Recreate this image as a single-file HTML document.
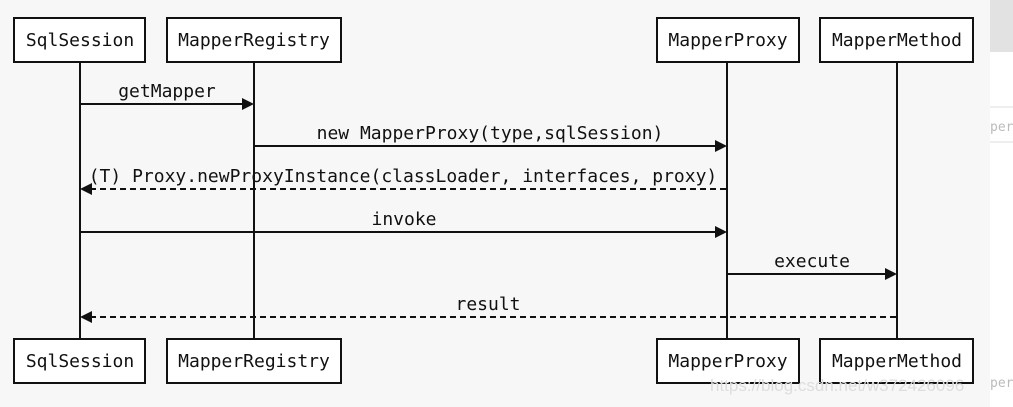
<!DOCTYPE html>
<html><head><style>
body{margin:0;width:1013px;height:407px;overflow:hidden;background:#f7f7f7;}
svg{display:block}
text{font-family:"DejaVu Sans Mono","Liberation Mono",monospace;font-size:18px;fill:#111;}
</style></head><body>
<svg width="1013" height="407" viewBox="0 0 1013 407">
<rect x="990" y="0" width="23" height="407" fill="#fff"/>
<rect x="990" y="0" width="23" height="52" fill="#e2e2e2"/>
<line x1="990" y1="107" x2="1013" y2="107" stroke="#ddd"/>
<line x1="990" y1="142" x2="1013" y2="142" stroke="#ddd"/>
<text x="990" y="131" style="fill:#bbb;font-size:13px">per</text>
<text x="990" y="387" style="fill:#bbb;font-size:13px">per</text>
<g stroke="#111" stroke-width="2" fill="none">
<line x1="80" y1="62" x2="80" y2="339"/>
<line x1="254" y1="62" x2="254" y2="339"/>
<line x1="727" y1="62" x2="727" y2="339"/>
<line x1="897" y1="62" x2="897" y2="339"/>
<g fill="#fff">
<rect x="14" y="18" width="131" height="44"/>
<rect x="167" y="18" width="174" height="44"/>
<rect x="657" y="18" width="142" height="44"/>
<rect x="820" y="18" width="153" height="44"/>
<rect x="14" y="339" width="131" height="44"/>
<rect x="167" y="339" width="174" height="44"/>
<rect x="657" y="339" width="142" height="44"/>
<rect x="820" y="339" width="153" height="44"/>
</g>
<line x1="80" y1="104" x2="244" y2="104"/>
<line x1="254" y1="146" x2="717" y2="146"/>
<line x1="90" y1="189" x2="727" y2="189" stroke-dasharray="6,4"/>
<line x1="80" y1="232" x2="717" y2="232"/>
<line x1="727" y1="274" x2="887" y2="274"/>
<line x1="90" y1="317" x2="897" y2="317" stroke-dasharray="6,4"/>
</g>
<g fill="#111">
<polygon points="254,104 242,98 242,110"/>
<polygon points="727,146 715,140 715,152"/>
<polygon points="80,189 92,183 92,195"/>
<polygon points="727,232 715,226 715,238"/>
<polygon points="897,274 885,268 885,280"/>
<polygon points="80,317 92,311 92,323"/>
</g>
<g text-anchor="middle" style="font-size:17.5px">
<text x="80" y="46">SqlSession</text>
<text x="254" y="46">MapperRegistry</text>
<text x="728" y="46">MapperProxy</text>
<text x="897" y="46">MapperMethod</text>
<text x="80" y="367">SqlSession</text>
<text x="254" y="367">MapperRegistry</text>
<text x="728" y="367">MapperProxy</text>
<text x="897" y="367">MapperMethod</text>
</g>
<g text-anchor="middle">
<text x="167" y="97">getMapper</text>
<text x="490" y="139">new MapperProxy(type,sqlSession)</text>
<text x="403" y="182">(T) Proxy.newProxyInstance(classLoader, interfaces, proxy)</text>
<text x="404" y="225">invoke</text>
<text x="812" y="267">execute</text>
<text x="488" y="310">result</text>
</g>
<text x="710" y="391" style="fill:#ddd;font-family:'Liberation Sans',sans-serif;font-size:17px">https://blog.csdn.net/w372426096</text>
</svg>
</body></html>
